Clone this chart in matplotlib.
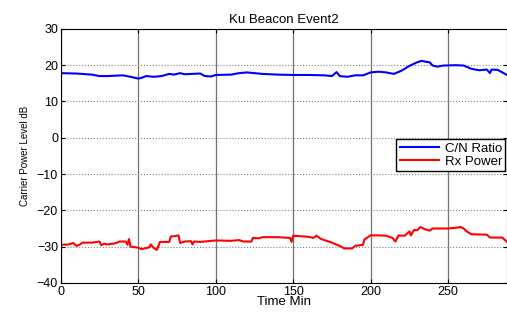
import numpy as np
import matplotlib
matplotlib.use("Agg")
import matplotlib.pyplot as plt

plt.rcParams['font.family'] = ['Liberation Sans', 'DejaVu Sans']

# C/N ratio (dB) vs time (min)
cn_t = [0, 10, 20, 25, 30, 40, 45, 50, 52, 55, 60, 65, 70, 73, 77, 80, 85, 90, 93, 97,
        100, 110, 115, 120, 125, 130, 140, 150, 160, 170, 175, 178, 180, 185, 190, 195,
        200, 205, 210, 215, 220, 225, 230, 233, 236, 238, 240, 243, 247, 255, 260, 265,
        270, 275, 277, 278, 282, 285, 288]
cn_v = [17.8, 17.7, 17.4, 17.0, 17.0, 17.2, 16.8, 16.3, 16.5, 17.0, 16.8, 17.0, 17.6, 17.4,
        17.8, 17.5, 17.6, 17.7, 17.0, 16.9, 17.3, 17.4, 17.8, 18.0, 17.8, 17.6, 17.4, 17.3,
        17.3, 17.2, 17.0, 18.1, 17.0, 16.8, 17.2, 17.2, 18.0, 18.2, 18.0, 17.6, 18.5, 19.8,
        20.8, 21.2, 20.9, 20.8, 19.9, 19.6, 19.9, 20.0, 19.9, 19.0, 18.6, 18.8, 17.8, 18.8,
        18.7, 18.0, 17.3]

# Rx power (dB)
rx_t = [0, 5, 8, 10, 12, 14, 20, 25, 26, 28, 30, 35, 38, 42, 43, 44, 45, 50, 52, 55, 57,
        58, 60, 62, 64, 70, 71, 74, 76, 77, 80, 84, 85, 86, 90, 95, 100, 110, 115, 118, 123,
        124, 128, 130, 140, 148, 149, 150, 160, 163, 165, 168, 175, 180, 183, 188, 190, 195,
        196, 200, 205, 210, 214, 216, 218, 222, 225, 226, 228, 230, 232, 235, 238, 240, 250,
        255, 258, 260, 262, 265, 275, 277, 285, 288]
rx_v = [-29.5, -29.4, -29.0, -29.8, -29.5, -28.9, -28.9, -28.6, -29.6, -29.2, -29.4, -29.1,
        -28.6, -28.6, -29.5, -27.9, -30.0, -30.3, -30.7, -30.4, -30.2, -29.4, -30.4, -30.9,
        -28.7, -28.7, -27.2, -27.1, -26.9, -29.0, -28.6, -28.5, -29.4, -28.6, -28.7, -28.5,
        -28.3, -28.4, -28.2, -28.6, -28.6, -27.6, -27.7, -27.4, -27.4, -27.6, -28.7, -27.0,
        -27.3, -27.6, -27.0, -27.9, -28.9, -29.8, -30.5, -30.5, -29.8, -29.5, -28.0, -26.9,
        -26.9, -27.0, -27.6, -28.6, -26.9, -27.0, -25.8, -26.9, -25.4, -25.5, -24.6, -25.2,
        -25.6, -25.0, -25.0, -24.8, -24.6, -25.0, -25.8, -26.6, -26.7, -27.5, -27.5, -28.7]

xticks = [0, 50, 100, 150, 200, 250]
yticks = [-40, -30, -20, -10, 0, 10, 20, 30]

fig = plt.figure(figsize=(5.07, 3.14), dpi=100)
ax = fig.add_axes([0.12, 0.099, 0.88, 0.809])

ax.plot(cn_t, cn_v, color='#0000ff', lw=1.5, label='C/N Ratio')
ax.plot(rx_t, rx_v, color='#ff0000', lw=1.5, label='Rx Power')

ax.set_xlim(0, 288)
ax.set_ylim(-40, 30)
ax.set_xticks(xticks)
ax.set_yticks(yticks)
ax.tick_params(direction='in', top=True, right=True, labelsize=9, length=3, pad=2)
ax.xaxis.grid(True, color='0.45', lw=0.9, ls='-')
ax.yaxis.grid(True, color='0.5', lw=0.8, ls=':')

ax.set_title('Ku Beacon Event2', fontsize=9.5, pad=4)
ax.set_xlabel('Time Min', fontsize=9.5, labelpad=-1)
ax.set_ylabel('Carrier Power Level dB', fontsize=7, labelpad=5)

ax.legend(loc='upper right', bbox_to_anchor=(0.996, 0.565), fontsize=9.5, fancybox=False,
          edgecolor='black', framealpha=1, borderpad=0.25, handlelength=3.0,
          handletextpad=0.4, labelspacing=0.05, borderaxespad=0)

fig.savefig('out.png', dpi=100)
